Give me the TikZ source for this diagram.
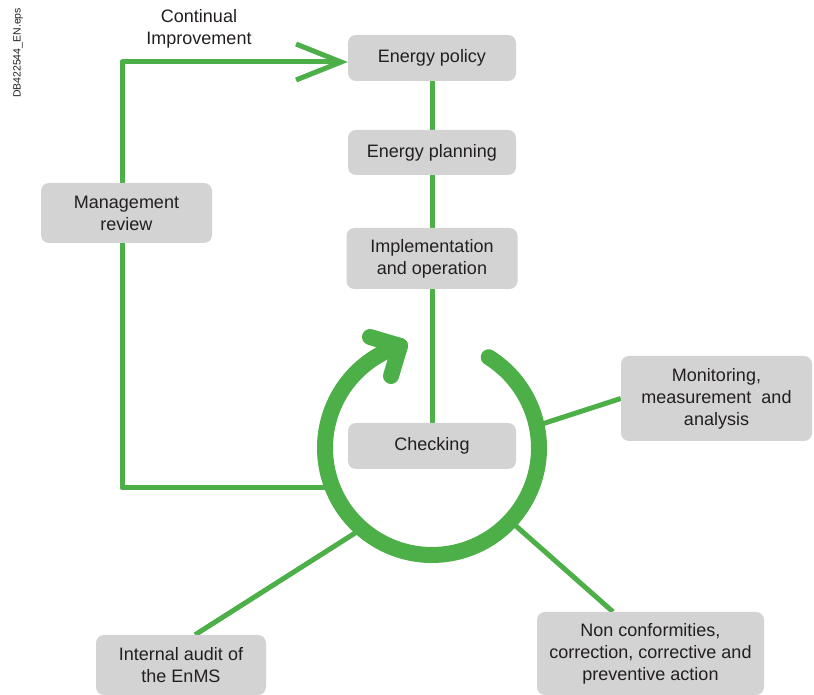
\documentclass[tikz,border=0pt]{standalone}
\usepackage{fontspec}
\setmainfont{Liberation Sans}
\usetikzlibrary{arrows.meta,backgrounds,calc}
\definecolor{gr}{RGB}{76,175,72}
\definecolor{boxgray}{RGB}{211,211,211}
\definecolor{txt}{RGB}{35,31,32}
\begin{document}
\begin{tikzpicture}[x=1pt,y=1pt,
  box/.style={fill=boxgray, rounded corners=8pt, align=center, text=txt,
    font=\fontsize{18}{22}\selectfont, inner sep=0pt},
  spoke/.style={draw=gr, line width=5pt},
  ring/.style={draw=gr, line width=16pt, line cap=round, line join=round}]
\useasboundingbox (0,0) rectangle (814,695);

% label
\node[rotate=90, text=txt, font=\fontsize{10.5}{12}\selectfont] (fname) at (18,642) {DB422544\_EN.eps};
\node[text=txt, align=center, font=\fontsize{18}{22}\selectfont] (cont) at (199,666) {Continual\\Improvement};

% boxes
\node[box, minimum width=168pt, minimum height=46pt] (policy) at (432,637) {Energy policy};
\node[box, minimum width=168pt, minimum height=45pt] (planning) at (432,542.5) {Energy planning};
\node[box, minimum width=171pt, minimum height=61pt] (impl) at (432,436.5) {Implementation\\and operation};
\node[box, minimum width=168pt, minimum height=46pt] (checking) at (432,249) {Checking};
\node[box, minimum width=171pt, minimum height=60pt] (review) at (126.5,482) {Management\\review};
\node[box, minimum width=191pt, minimum height=85pt] (monitor) at (716.5,296.5) {Monitoring,\\measurement\ \ and\\analysis};
\node[box, minimum width=227pt, minimum height=83pt] (noncon) at (650.5,41.5) {Non conformities,\\correction, corrective and\\preventive action};
\node[box, minimum width=170pt, minimum height=60pt] (audit) at (181,30) {Internal audit of\\the EnMS};

% ring geometry
\coordinate (rc) at (432,247);
\coordinate (ringL) at (333,207);
\coordinate (ringM) at ($(rc)+(12:107)$);
\coordinate (ringN) at ($(rc)+(-43:107)$);
\coordinate (ringA) at ($(rc)+(229:107)$);
\coordinate (c1) at (122,207);
\coordinate (c2) at (122,633);

\begin{scope}[on background layer]
  \draw[spoke] (policy) -- (planning);
  \draw[spoke] (planning) -- (impl);
  \draw[spoke] (impl) -- (checking);
  \draw[spoke, line join=round, -{Straight Barb[length=45pt,width=36pt]}]
    (ringL) -- (c1) -- (c2) -- (c2 -| policy.west);
  \draw[spoke] (ringM) -- (monitor.west);
  \draw[spoke] (ringN) -- (noncon.132);
  \draw[spoke] (ringA) -- (audit.65);
  % big cycle arrow
  \draw[ring] ($(rc)+(58:107)$) arc[start angle=58, end angle=-252.6, radius=107];
  \coordinate (tip) at ($(rc)+(107.4:107)$);
  \draw[ring] (370,358) -- (tip) -- (391,319);
\end{scope}
\end{tikzpicture}
\end{document}
